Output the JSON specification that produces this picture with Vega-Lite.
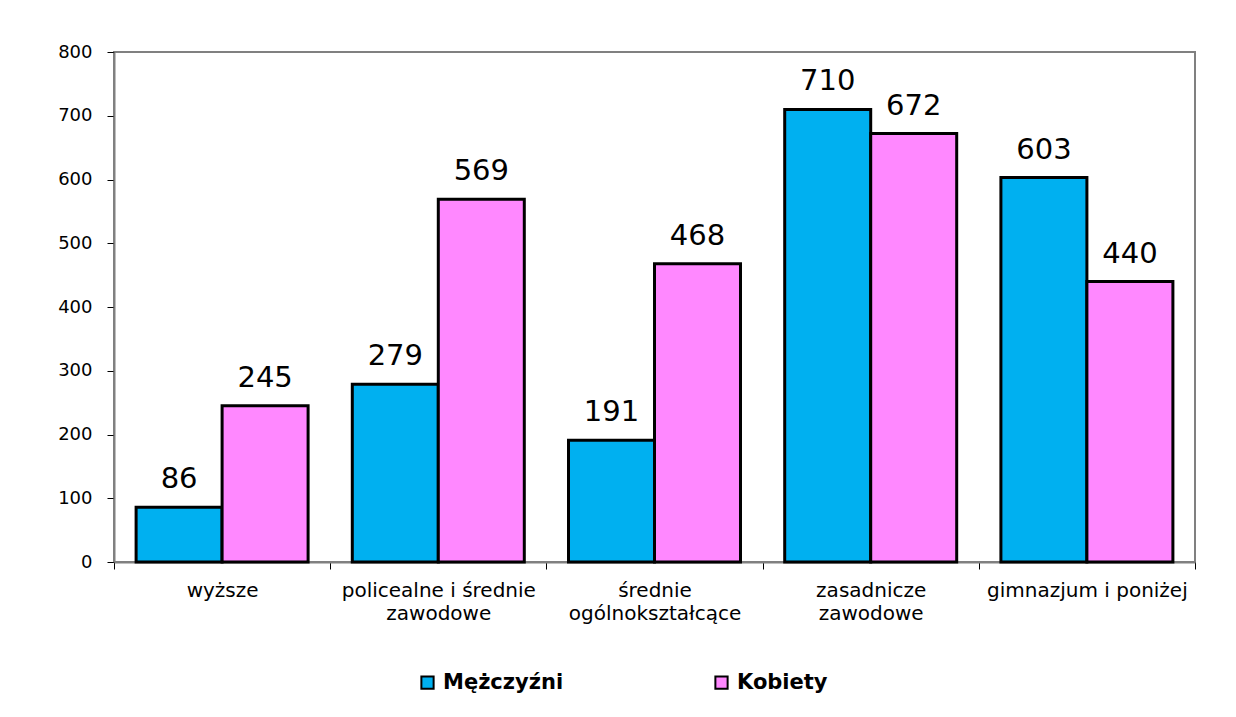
{
  "$schema": "https://vega.github.io/schema/vega-lite/v6.json",
  "width": 1081,
  "height": 510,
  "autosize": {"type": "none"},
  "padding": {"left": 114, "top": 52, "right": 41, "bottom": 155},
  "background": "white",
  "config": {
    "view": {"stroke": "#808080", "strokeWidth": 2},
    "font": "DejaVu Sans"
  },
  "data": {
    "values": [
      {"wyksztalcenie": "wyższe", "plec": "Mężczyźni", "liczba": 86},
      {"wyksztalcenie": "wyższe", "plec": "Kobiety", "liczba": 245},
      {"wyksztalcenie": "policealne i średnie zawodowe", "plec": "Mężczyźni", "liczba": 279},
      {"wyksztalcenie": "policealne i średnie zawodowe", "plec": "Kobiety", "liczba": 569},
      {"wyksztalcenie": "średnie ogólnokształcące", "plec": "Mężczyźni", "liczba": 191},
      {"wyksztalcenie": "średnie ogólnokształcące", "plec": "Kobiety", "liczba": 468},
      {"wyksztalcenie": "zasadnicze zawodowe", "plec": "Mężczyźni", "liczba": 710},
      {"wyksztalcenie": "zasadnicze zawodowe", "plec": "Kobiety", "liczba": 672},
      {"wyksztalcenie": "gimnazjum i poniżej", "plec": "Mężczyźni", "liczba": 603},
      {"wyksztalcenie": "gimnazjum i poniżej", "plec": "Kobiety", "liczba": 440}
    ]
  },
  "encoding": {
    "x": {
      "field": "wyksztalcenie",
      "type": "nominal",
      "sort": ["wyższe", "policealne i średnie zawodowe", "średnie ogólnokształcące", "zasadnicze zawodowe", "gimnazjum i poniżej"],
      "scale": {"paddingInner": 0, "paddingOuter": 0},
      "axis": {
        "title": null,
        "labelAngle": 0,
        "tickBand": "extent",
        "domainColor": "#808080",
        "domainWidth": 2,
        "tickColor": "black",
        "tickSize": 7,
        "labelPadding": 11,
        "labelFontSize": 20,
        "labelLineHeight": 23,
        "labelColor": "black",
        "labelLimit": 300,
        "labelExpr": "datum.value == 'policealne i średnie zawodowe' ? ['policealne i średnie', 'zawodowe'] : datum.value == 'średnie ogólnokształcące' ? ['średnie', 'ogólnokształcące'] : datum.value == 'zasadnicze zawodowe' ? ['zasadnicze', 'zawodowe'] : datum.value"
      }
    },
    "xOffset": {
      "field": "plec",
      "type": "nominal",
      "sort": ["Mężczyźni", "Kobiety"],
      "scale": {"paddingInner": 0, "paddingOuter": 0.257}
    },
    "y": {
      "field": "liczba",
      "type": "quantitative",
      "scale": {"domain": [0, 800], "nice": false},
      "axis": {
        "title": null,
        "values": [0, 100, 200, 300, 400, 500, 600, 700, 800],
        "grid": false,
        "tickSize": 7,
        "tickColor": "black",
        "labelPadding": 15,
        "domainColor": "#808080",
        "domainWidth": 2,
        "labelFontSize": 18,
        "labelColor": "black"
      }
    }
  },
  "layer": [
    {
      "mark": {"type": "bar", "stroke": "black", "strokeWidth": 3},
      "encoding": {
        "color": {
          "field": "plec",
          "type": "nominal",
          "sort": ["Mężczyźni", "Kobiety"],
          "scale": {"range": ["#00B0F0", "#FF88FF"]},
          "legend": {
            "title": null,
            "orient": "none",
            "legendX": 303,
            "legendY": 620,
            "direction": "horizontal",
            "symbolType": "square",
            "symbolSize": 150,
            "symbolStrokeColor": "black",
            "symbolStrokeWidth": 2,
            "symbolOpacity": 1,
            "labelFontSize": 21,
            "labelFontWeight": "bold",
            "labelColor": "black",
            "columnPadding": 147,
            "labelOffset": 5,
            "padding": 0
          }
        }
      }
    },
    {
      "mark": {"type": "text", "dy": -19, "baseline": "alphabetic", "fontSize": 29, "color": "black"},
      "encoding": {"text": {"field": "liczba", "type": "quantitative"}}
    }
  ]
}
